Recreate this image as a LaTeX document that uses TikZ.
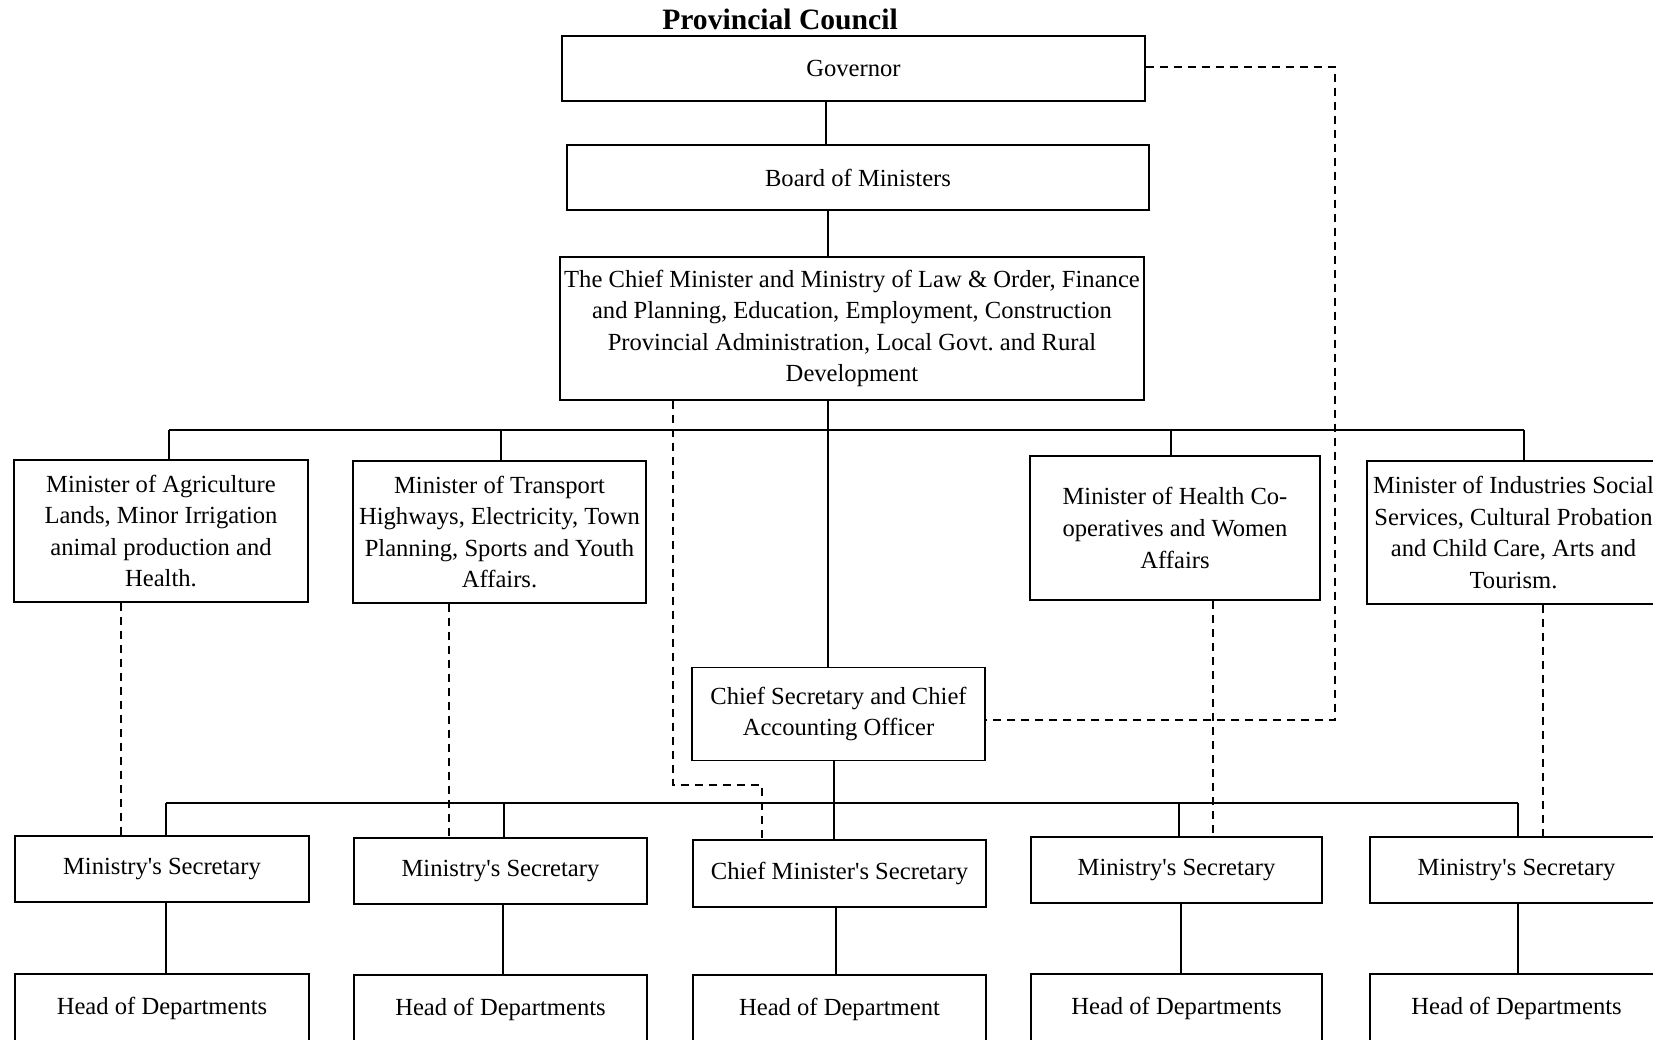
\documentclass[tikz,border=0pt]{standalone}
\usepackage{fontspec}
\setmainfont{Liberation Serif}
\begin{document}
\begin{tikzpicture}[x=0.5pt,y=-0.5pt,
  box/.style={draw, line width=0.6pt, align=center, inner sep=0pt,
    font=\fontsize{12.3}{15.8}\selectfont},
  wide/.style={box, minimum width=146.5pt},
  link/.style={line width=0.6pt},
  dlink/.style={line width=0.6pt, dash pattern=on 4pt off 3pt}]
\useasboundingbox (0,0) rectangle (1653,1039);
\clip (0,0) rectangle (1653,1039);
\fill[white] (0,0) rectangle (1653,1039);

\node[font=\fontsize{14.8}{17}\selectfont\bfseries] (title) at (780,19) {Provincial Council};

\node[box, minimum width=291.5pt, minimum height=32.5pt] (gov) at (853.5,68.5) {Governor};
\node[box, minimum width=291pt, minimum height=32.5pt] (board) at (858,177.5) {Board of Ministers};
\node[box, minimum width=292pt, minimum height=71.5pt] (cm) at (852,328.5)
  {The Chief Minister and Ministry of Law \& Order, Finance\\and Planning, Education, Employment, Construction\\Provincial Administration, Local Govt.\ and Rural\\Development};

\node[wide, minimum width=147pt, minimum height=71pt] (agri) at (161,531)
  {Minister of Agriculture\\Lands, Minor Irrigation\\animal production and\\Health.};
\node[wide, minimum height=71pt] (trans) at (499.5,532)
  {Minister of Transport\\Highways, Electricity, Town\\Planning, Sports and Youth\\Affairs.};
\node[wide, minimum width=145pt, minimum height=72pt] (health) at (1175,528)
  {Minister of Health Co-\\operatives and Women\\Affairs};
\node[wide, minimum height=71.5pt] (ind) at (1513.5,532.5)
  {Minister of Industries Social\\Services, Cultural Probation\\and Child Care, Arts and\\Tourism.};

\node[wide, minimum height=46.5pt] (cs) at (838.5,714) {Chief Secretary and Chief\\Accounting Officer};

\node[wide, minimum width=147pt, minimum height=33pt] (sec1) at (162,869) {Ministry\textquotesingle s Secretary};
\node[wide, minimum height=33pt] (sec2) at (500.5,871) {Ministry\textquotesingle s Secretary};
\node[wide, minimum height=33.5pt] (sec3) at (839.5,873.5) {Chief Minister\textquotesingle s Secretary};
\node[wide, minimum width=145.5pt, minimum height=33pt] (sec4) at (1176.5,870) {Ministry\textquotesingle s Secretary};
\node[wide, minimum height=33pt] (sec5) at (1516.5,870) {Ministry\textquotesingle s Secretary};

\node[wide, minimum width=147pt, minimum height=34pt] (head1) at (162,1008) {Head of Departments};
\node[wide, minimum height=34pt] (head2) at (500.5,1009) {Head of Departments};
\node[wide, minimum height=34pt] (head3) at (839.5,1009) {Head of Department};
\node[wide, minimum width=145.5pt, minimum height=34pt] (head4) at (1176.5,1008) {Head of Departments};
\node[wide, minimum height=34pt] (head5) at (1516.5,1008) {Head of Departments};

% helper coordinates
\coordinate (ga) at (826,0);
\coordinate (gb) at (828,0);
\coordinate (busT) at (0,430);
\coordinate (busB) at (0,803);
\coordinate (xa) at (169,0);
\coordinate (xb) at (501,0);
\coordinate (xc) at (1171,0);
\coordinate (xd) at (1524,0);
\coordinate (ya) at (166,0);
\coordinate (yb) at (504,0);
\coordinate (yc) at (834,0);
\coordinate (yd) at (1179,0);
\coordinate (ye) at (1518,0);
\coordinate (hb) at (503,0);
\coordinate (hc) at (836,0);
\coordinate (hd) at (1181,0);

% solid connectors
\draw[link] (gov.south -| ga) -- (board.north -| ga);
\draw[link] (board.south -| gb) -- (cm.north -| gb);
\draw[link] (cm.south -| gb) -- (cs.north -| gb);
\draw[link] (busT -| xa) -- (busT -| xd);
\draw[link] (busT -| xa) -- (agri.north -| xa);
\draw[link] (busT -| xb) -- (trans.north -| xb);
\draw[link] (busT -| xc) -- (health.north -| xc);
\draw[link] (busT -| xd) -- (ind.north -| xd);

\draw[link] (cs.south -| yc) -- (busB -| yc);
\draw[link] (busB -| ya) -- (busB -| ye);
\draw[link] (busB -| ya) -- (sec1.north -| ya);
\draw[link] (busB -| yb) -- (sec2.north -| yb);
\draw[link] (busB -| yc) -- (sec3.north -| yc);
\draw[link] (busB -| yd) -- (sec4.north -| yd);
\draw[link] (busB -| ye) -- (sec5.north -| ye);

\draw[link] (sec1.south -| ya) -- (head1.north -| ya);
\draw[link] (sec2.south -| hb) -- (head2.north -| hb);
\draw[link] (sec3.south -| hc) -- (head3.north -| hc);
\draw[link] (sec4.south -| hd) -- (head4.north -| hd);
\draw[link] (sec5.south -| ye) -- (head5.north -| ye);

% dashed connectors
\coordinate (gd1) at (1335,67);
\coordinate (gd2) at (1335,720);
\draw[dlink] (gov.east |- gd1) -- (gd1) -- (gd2) -- (cs.east |- gd2);

\coordinate (cd0) at (673,0);
\coordinate (cd1) at (673,785);
\coordinate (cd2) at (762,785);
\draw[dlink] (cm.south -| cd0) -- (cd1) -- (cd2) -- (sec3.north -| cd2);

\coordinate (da) at (121,0);
\coordinate (db) at (449,0);
\coordinate (dc) at (1213,0);
\coordinate (dd) at (1543,0);
\draw[dlink] (agri.south -| da) -- (sec1.north -| da);
\draw[dlink] (trans.south -| db) -- (sec2.north -| db);
\draw[dlink] (health.south -| dc) -- (sec4.north -| dc);
\draw[dlink] (ind.south -| dd) -- (sec5.north -| dd);
\end{tikzpicture}
\end{document}
